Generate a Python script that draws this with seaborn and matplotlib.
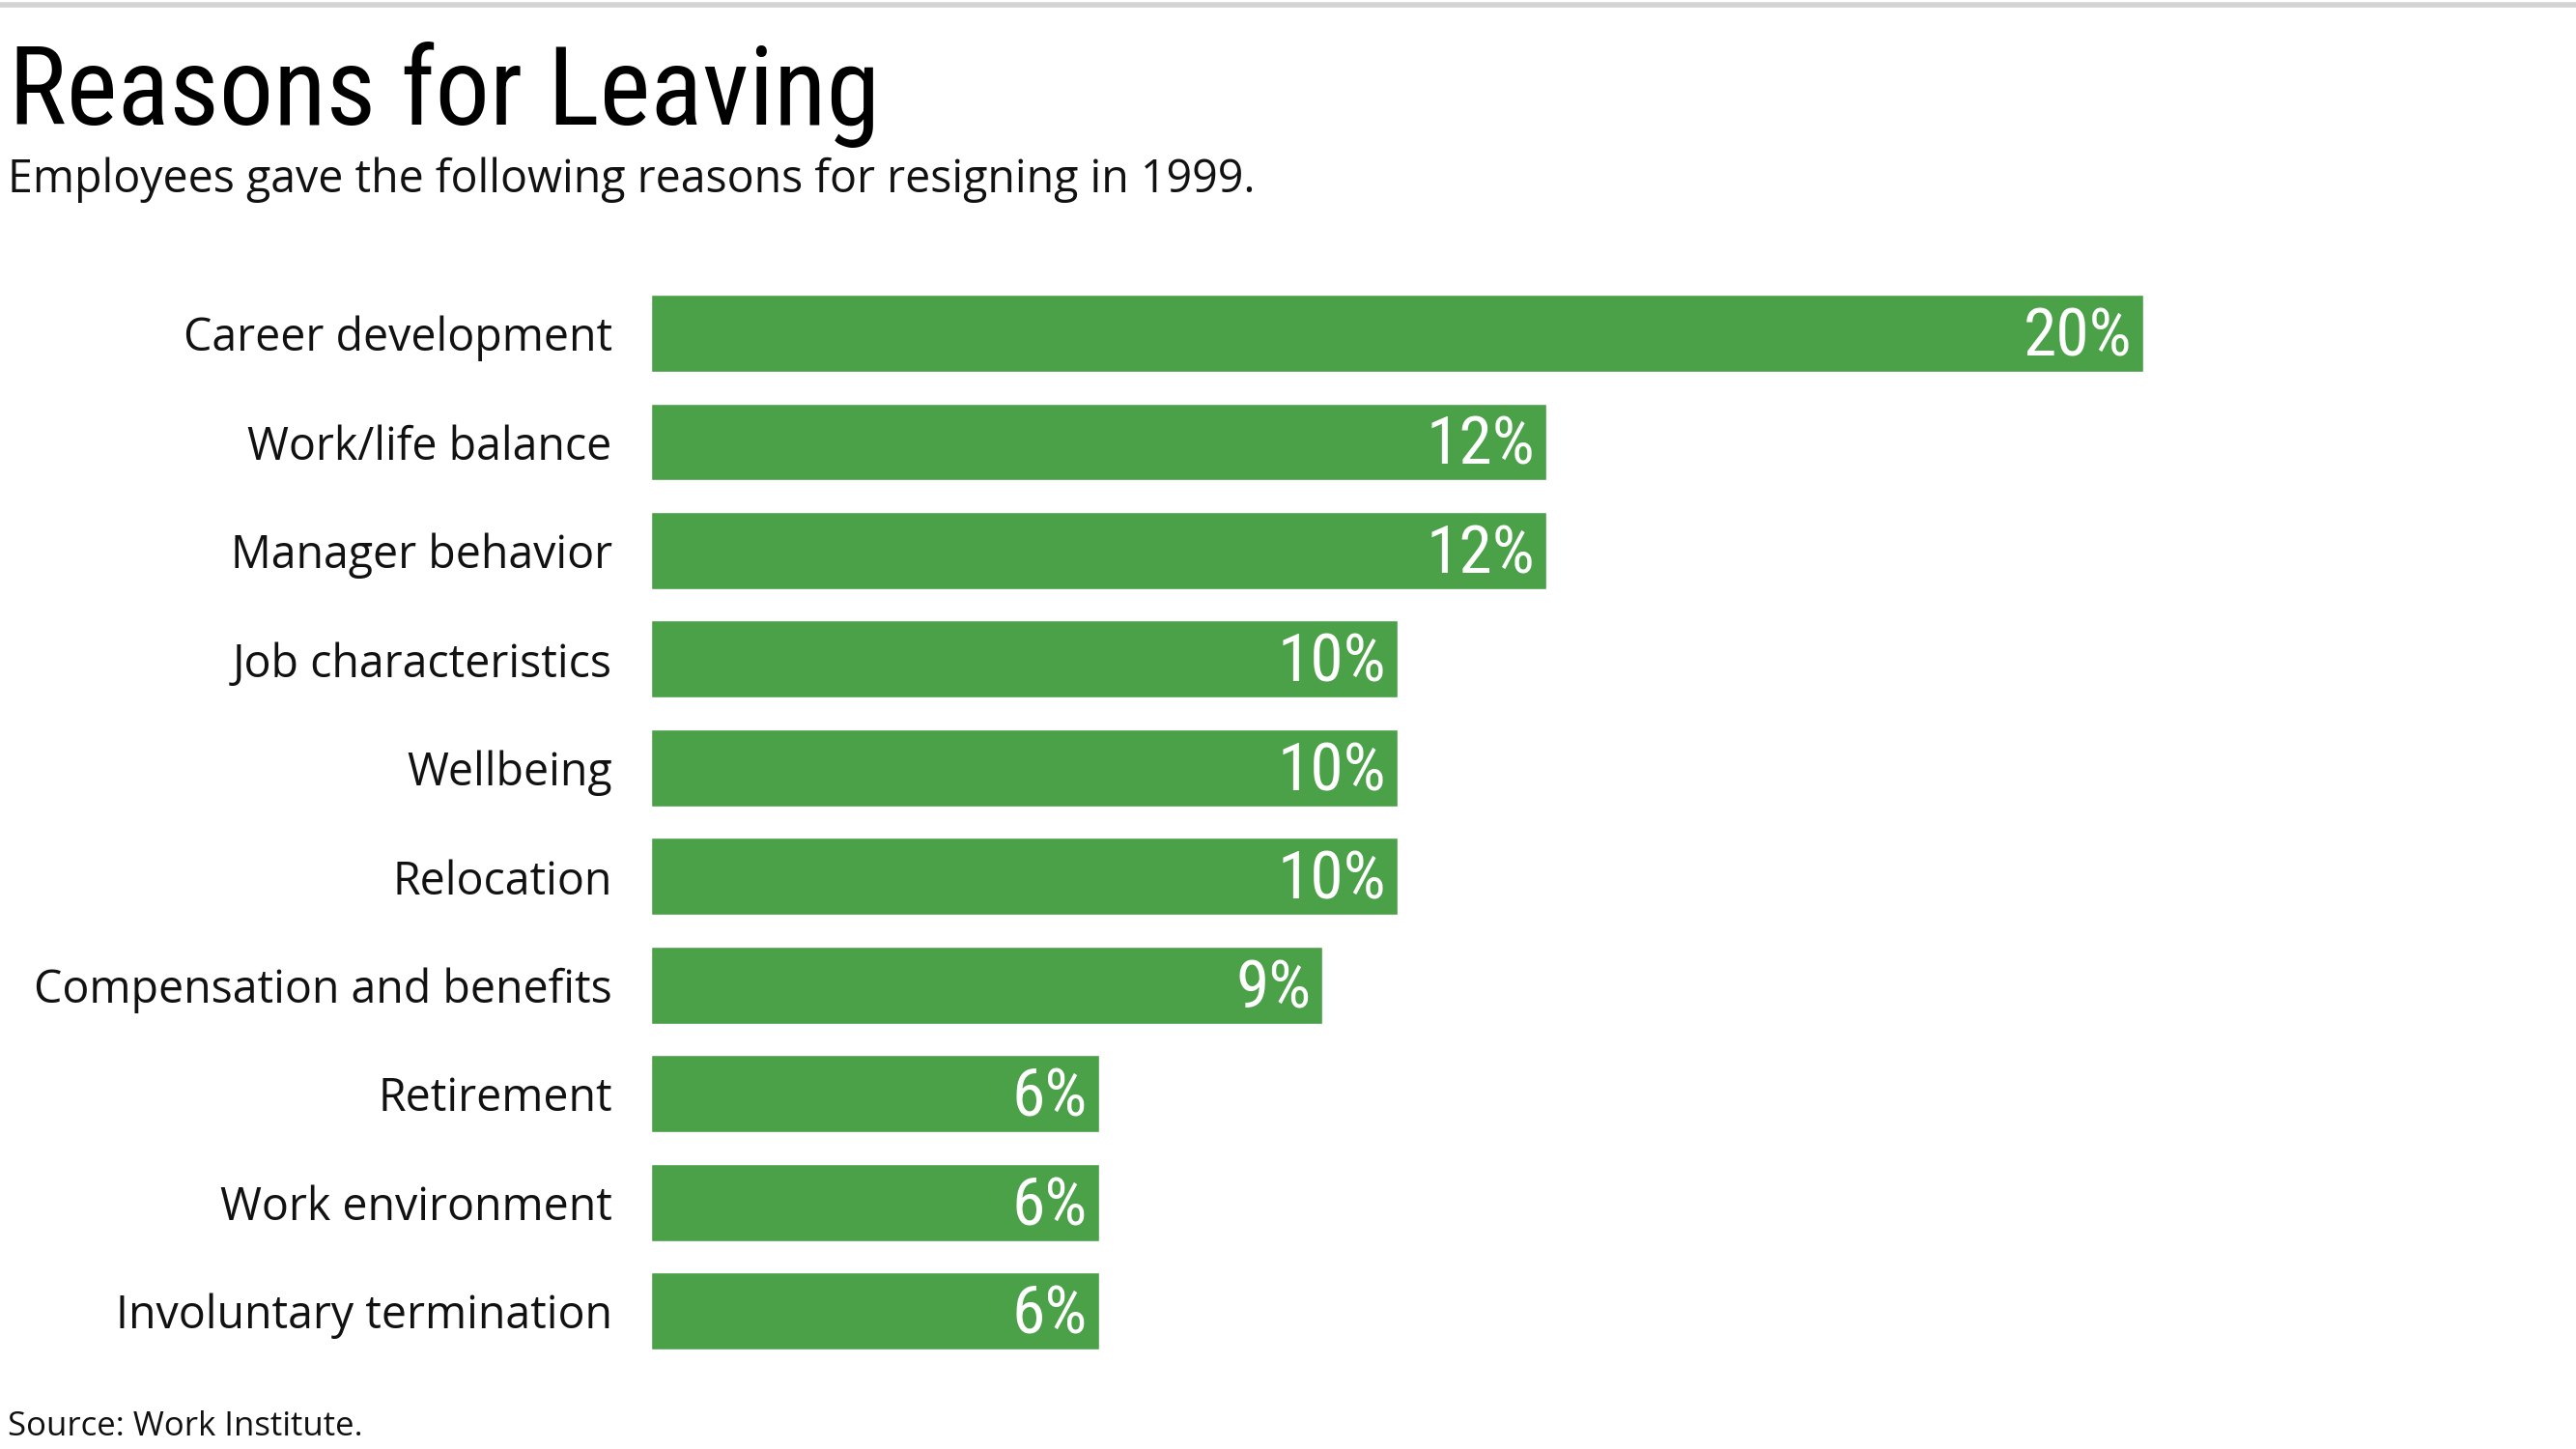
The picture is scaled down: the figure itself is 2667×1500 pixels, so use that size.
import matplotlib
matplotlib.use("Agg")
import matplotlib.pyplot as plt
import matplotlib.lines as mlines
from matplotlib import font_manager
import pandas as pd
import seaborn as sns

# data
reasons = [
    "Career development",
    "Work/life balance",
    "Manager behavior",
    "Job characteristics",
    "Wellbeing",
    "Relocation",
    "Compensation and benefits",
    "Retirement",
    "Work environment",
    "Involuntary termination",
]
shares = [20, 12, 12, 10, 10, 10, 9, 6, 6, 6]

title = "Reasons for Leaving"
subtitle = "Employees gave the following reasons for resigning in 1999."
source = "Source: Work Institute."

df = pd.DataFrame({"reason": reasons, "share": shares})

sns.set_theme(style="white")

# pick fonts that are actually installed
names = set(font_manager.get_font_names())
narrow = next((f for f in ["Roboto Condensed", "Liberation Sans Narrow", "Open Sans Condensed"] if f in names), "Roboto")
body = next((f for f in ["Open Sans", "Noto Sans", "Lato"] if f in names), "DejaVu Sans")
plt.rcParams["font.family"] = [body, "DejaVu Sans"]

GREEN = "#4aa147"

fig = plt.figure(figsize=(26.67, 15), dpi=100)
fig.patch.set_facecolor("white")

# axes placed so the bars land where the reference has them
ax = fig.add_axes([0.2527, 0.0578, 0.7243, 0.7497])
sns.barplot(data=df, x="share", y="reason", orient="h", color=GREEN,
            saturation=1, width=0.71, ax=ax)

ax.set_xlim(0, 25)
ax.set_ylim(len(reasons) - 0.5, -0.5)
ax.set_xlabel("")
ax.set_ylabel("")
ax.set_xticks([])
sns.despine(ax=ax, left=True, bottom=True)
ax.tick_params(axis="y", length=0, pad=29, labelsize=33.5, labelcolor="#111111")

# value labels inside bar ends
for i, v in enumerate(shares):
    ax.text(v - 0.15, i + 0.04, f"{v}%", ha="right", va="center",
            color="white", fontsize=50, family=[narrow, "DejaVu Sans"])

# top rule
fig.add_artist(mlines.Line2D([0, 1], [0.9965, 0.9965], color="#d3d3d3",
                             linewidth=4, transform=fig.transFigure))

fig.text(0.0035, 0.914, title, ha="left", va="baseline", fontsize=81,
         color="black", family=[narrow, "DejaVu Sans"])
fig.text(0.003, 0.867, subtitle, ha="left", va="baseline", fontsize=33.5,
         color="#111111")
fig.text(0.003, 0.009, source, ha="left", va="baseline", fontsize=25,
         color="#111111")

fig.savefig("out.png", dpi=100, facecolor="white")
